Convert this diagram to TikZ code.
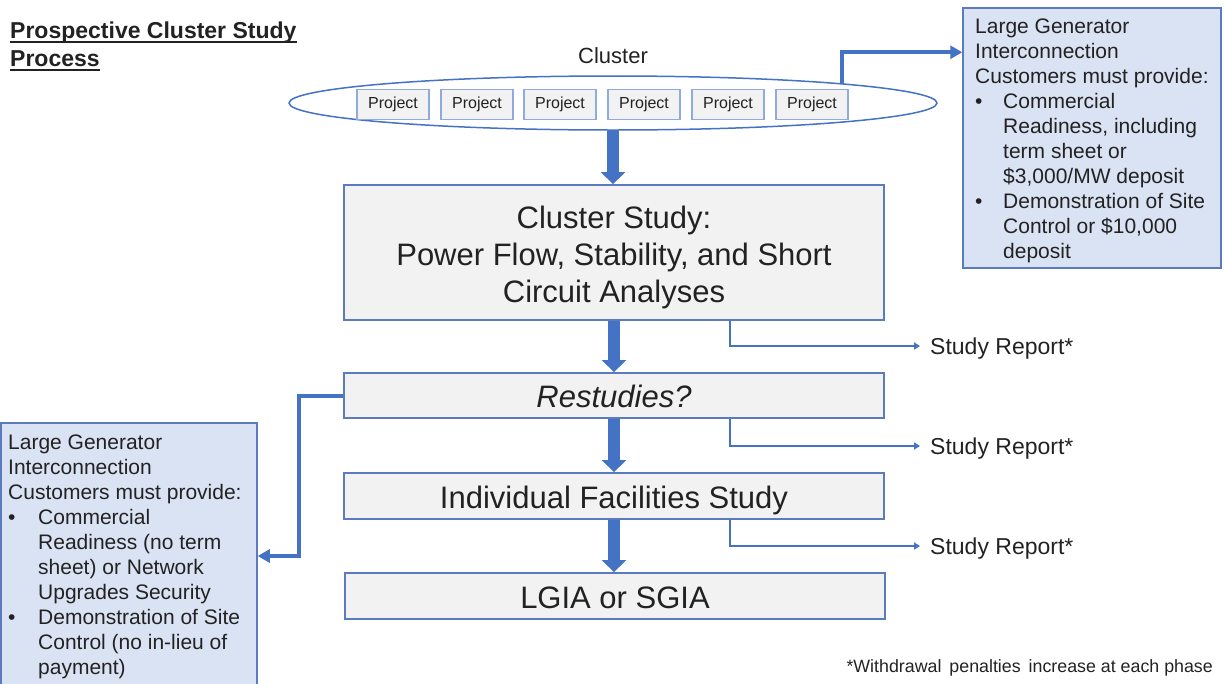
\documentclass[tikz,border=0pt]{standalone}
\usepackage{fontspec}
\setmainfont{Liberation Sans}
\usetikzlibrary{arrows.meta,shapes.geometric,calc}

\definecolor{flowblue}{HTML}{4472C4}
\definecolor{edgeblue}{HTML}{5B7BBE}
\definecolor{lightedge}{HTML}{8FAADC}
\definecolor{boxgray}{HTML}{F2F2F2}
\definecolor{notefill}{HTML}{DAE3F3}
\definecolor{inkgray}{HTML}{222222}

\begin{document}
\begin{tikzpicture}[x=1pt, y=-1pt,
  every node/.append style={text=inkgray},
  stage/.style={draw=edgeblue, line width=1.8pt, fill=boxgray, minimum width=540pt,
    inner sep=0pt, align=center, font=\fontsize{31}{37}\selectfont,
    text height=24pt, text depth=0pt},
  stagetext/.style={inner sep=0pt, align=center, font=\fontsize{31}{37}\selectfont},
  projbox/.style={draw=lightedge, line width=1.5pt, fill=boxgray, minimum width=72pt,
    minimum height=30pt, inner sep=0pt, font=\fontsize{16}{19}\selectfont},
  notebox/.style={draw=edgeblue, line width=1.5pt, fill=notefill, inner sep=0pt},
  notetext/.style={inner sep=0pt, align=left, anchor=north west,
    font=\fontsize{21}{25}\selectfont},
  bigflow/.style={draw=flowblue, line width=12pt, -{Triangle[width=24pt,length=12pt]}},
  feed/.style={draw=flowblue, line width=4pt, -{Triangle[width=13pt,length=12pt]}},
  report/.style={draw=flowblue, line width=1.6pt, -{Triangle[width=7pt,length=6pt]}},
  reportlabel/.style={anchor=west, inner xsep=10pt, inner ysep=0pt, text height=16.5pt,
    text depth=0pt, font=\fontsize{23}{27}\selectfont}]

\useasboundingbox (0,0) rectangle (1225,683);

% heading
\node[anchor=base west, inner sep=0pt, font=\fontsize{23}{28}\selectfont\bfseries]
  (title1) at (10,38) {Prospective Cluster Study};
\node[anchor=base west, inner sep=0pt, font=\fontsize{23}{28}\selectfont\bfseries]
  (title2) at (10,66) {Process};
\draw[line width=2pt, inkgray] ($(title1.base west)+(0,4)$) -- ($(title1.base east)+(0,4)$);
\draw[line width=2pt, inkgray] ($(title2.base west)+(0,4)$) -- ($(title2.base east)+(0,4)$);

% the cluster of projects
\node[anchor=base, inner sep=0pt, font=\fontsize{22}{26}\selectfont] (clusterlbl) at (613,63) {Cluster};
\node[ellipse, draw=flowblue, line width=1.5pt, minimum width=648pt, minimum height=54pt,
  inner sep=0pt] (ell) at (613,103) {};
\foreach \i/\cx in {1/393,2/477,3/560,4/644,5/728,6/812}
  \node[projbox] (p\i) at (\cx,104.5) {Project};

% study stages
\node[stage, minimum height=135pt] (cs) at (614,252.5) {};
\node[stagetext] (cstext) at (614,257)
  {Cluster Study:\\Power Flow, Stability, and Short\\Circuit Analyses};
\node[stage, minimum height=45pt, font=\fontsize{31}{37}\selectfont\itshape] (rs) at (614,395.5) {Restudies?};
\node[stage, minimum height=46pt] (ifs) at (614,496) {Individual Facilities Study};
\node[stage, minimum height=46pt] (lgia) at (615,596) {LGIA or SGIA};

% requirement boxes
\node[notebox, minimum width=258pt, minimum height=260pt] (rbox) at (1092,138) {};
\node[notetext] (rtext) at (975,15.5) {\strut Large Generator\\
  Interconnection\\
  Customers must provide:\\
  \makebox[28pt][l]{\textbullet}Commercial\\
  \hspace*{28pt}Readiness, including\\
  \hspace*{28pt}term sheet or\\
  \hspace*{28pt}\$3,000/MW deposit\\
  \makebox[28pt][l]{\textbullet}Demonstration of Site\\
  \hspace*{28pt}Control or \$10,000\\
  \hspace*{28pt}deposit};

\node[notebox, minimum width=256pt, minimum height=266pt] (lbox) at (129,556) {};
\node[notetext] (ltext) at (8,431.5) {\strut Large Generator\\
  Interconnection\\
  Customers must provide:\\
  \makebox[30pt][l]{\textbullet}Commercial\\
  \hspace*{30pt}Readiness (no term\\
  \hspace*{30pt}sheet) or Network\\
  \hspace*{30pt}Upgrades Security\\
  \makebox[30pt][l]{\textbullet}Demonstration of Site\\
  \hspace*{30pt}Control (no in-lieu of\\
  \hspace*{30pt}payment)};

% flow between stages
\draw[bigflow] (ell.south) -- (ell.south |- cs.north);
\draw[bigflow] (cs.south) -- (rs.north);
\draw[bigflow] (rs.south) -- (ifs.north);
\draw[bigflow] (ifs.south) -- (ifs.south |- lgia.north);

% requirements feeds
\coordinate (tap) at ($(ell.center)+(229,-19)$);
\draw[feed] (tap) |- ($(rbox.north west)+(0,45)$);
\draw[feed] (rs.west) -- ++(-44,0) |- (lbox.east);

% study reports
\node[reportlabel] (sr1) at (920,346) {Study Report*};
\node[reportlabel] (sr2) at (920,446) {Study Report*};
\node[reportlabel] (sr3) at (920,546) {Study Report*};
\draw[report] ($(cs.south)+(116,0)$) |- (sr1.west);
\draw[report] ($(rs.south)+(116,0)$) |- (sr2.west);
\draw[report] ($(ifs.south)+(116,0)$) |- (sr3.west);

% footnote
\node[anchor=base east, inner sep=0pt, font=\fontsize{17.8}{21}\selectfont] (foot) at (1213,672)
  {*Withdrawal\hspace{0.45em}penalties\hspace{0.45em}increase at each phase};

\end{tikzpicture}
\end{document}
